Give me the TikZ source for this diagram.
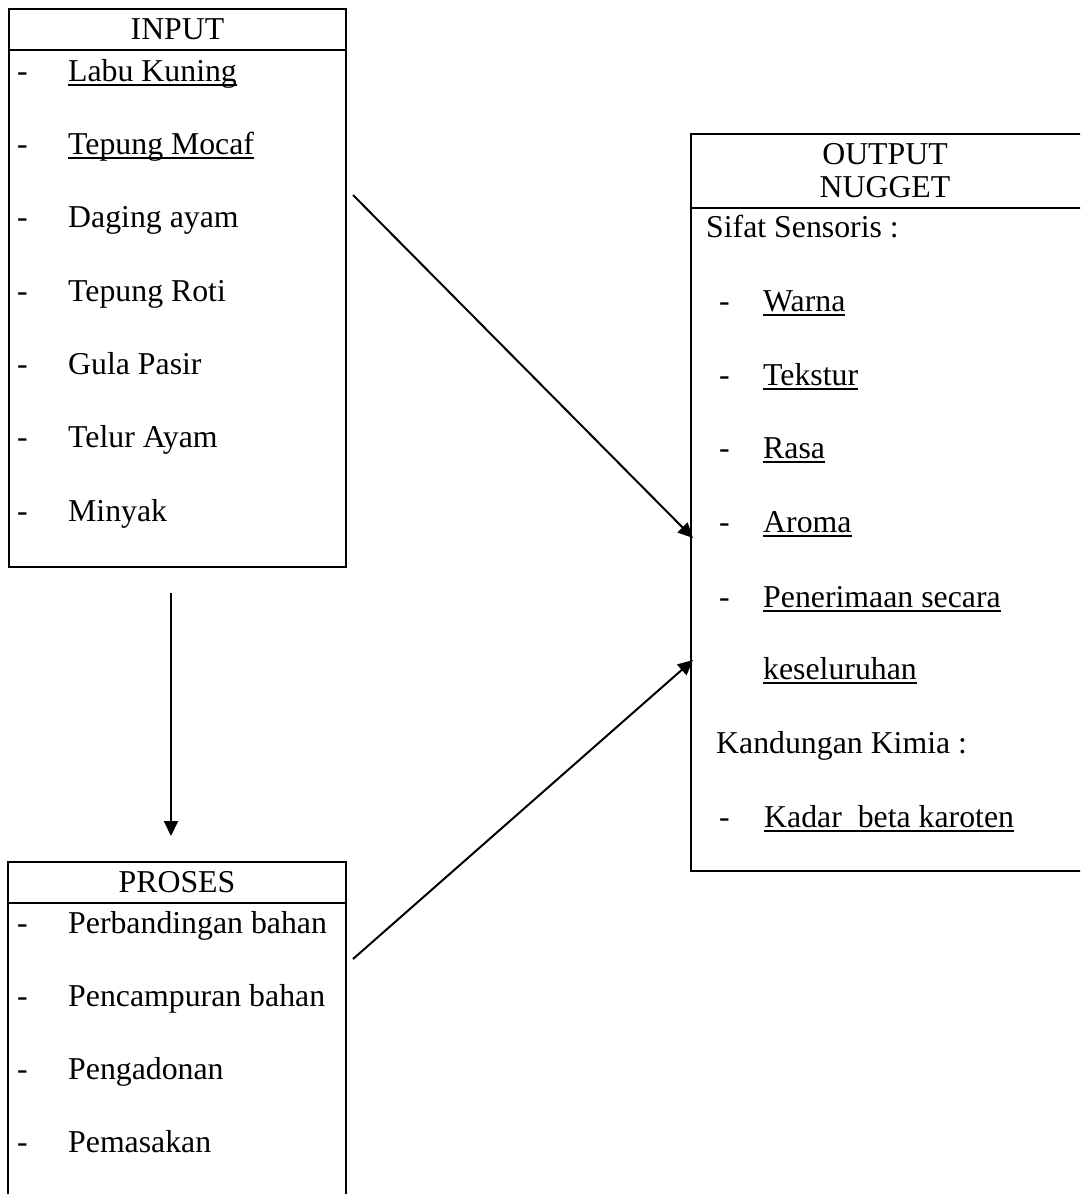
\documentclass[tikz,border=0pt]{standalone}
\usepackage{fontspec}
\setmainfont{Liberation Serif}
\usetikzlibrary{arrows.meta}
\newcommand{\myul}[1]{\setbox0\hbox{#1}\rlap{\rule[-4.5pt]{\wd0}{1.8pt}}\box0}
\begin{document}
\begin{tikzpicture}[x=1pt,y=-1pt,
  boxline/.style={line width=2.2pt},
  txt/.style={anchor=base west,inner sep=0pt,font=\fontsize{31.8}{36}\selectfont},
  ttl/.style={anchor=base,inner sep=0pt,font=\fontsize{31.8}{36}\selectfont},
  arr/.style={line width=2pt,-{Triangle[length=15pt,width=14pt]}}]
\useasboundingbox (0,0) rectangle (1080,1194);
\clip (0,0) rectangle (1080,1194);
% INPUT box
\draw[boxline] (9,9) rectangle (346,567);
\draw[boxline] (9,50) -- (346,50);
\node[ttl] (tin) at (177.5,39) {INPUT};
\foreach \y/\t [count=\i] in {81/\myul{Labu Kuning},154/\myul{Tepung Mocaf},227/Daging ayam,301/Tepung Roti,374/Gula Pasir,447/Telur Ayam,521/Minyak}{
  \node[txt] (ind\i) at (17,\y) {-};
  \node[txt] (in\i) at (68,\y) {\t};
}
% PROSES box
\draw[boxline] (8,1200) -- (8,862) -- (346,862) -- (346,1200);
\draw[boxline] (8,903) -- (346,903);
\node[ttl] (tpr) at (177,892) {PROSES};
\foreach \y/\t [count=\i] in {933/Perbandingan bahan,1006/Pencampuran bahan,1079/Pengadonan,1152/Pemasakan}{
  \node[txt] (prd\i) at (17,\y) {-};
  \node[txt] (pr\i) at (68,\y) {\t};
}
% OUTPUT box
\draw[boxline] (1090,134) -- (691,134) -- (691,871) -- (1090,871);
\draw[boxline] (691,208) -- (1090,208);
\node[ttl] (tout1) at (885,164) {OUTPUT};
\node[ttl] (tout2) at (885,197) {NUGGET};
\node[txt] (sifat) at (706,237) {Sifat Sensoris :};
\foreach \y/\t [count=\i] in {311/Warna,385/Tekstur,458/Rasa,532/Aroma,607/Penerimaan secara}{
  \node[txt] (outd\i) at (719,\y) {-};
  \node[txt] (out\i) at (763,\y) {\myul{\t}};
}
\node[txt] (out6) at (763,679) {\myul{keseluruhan}};
\node[txt] (kimia) at (716,753) {Kandungan Kimia :};
\node[txt] (kd) at (719,827) {-};
\node[txt] (kadar) at (764,827) {\myul{Kadar\ \ beta karoten}};
% connectors
\coordinate (a1s) at (353,195);
\coordinate (a1e) at (693,538);
\coordinate (a2s) at (353,959);
\coordinate (a2e) at (693,660);
\coordinate (a3s) at (171,593);
\coordinate (a3e) at (171,836);
\draw[arr] (a1s) -- (a1e);
\draw[arr] (a2s) -- (a2e);
\draw[arr] (a3s) -- (a3e);
\end{tikzpicture}
\end{document}
